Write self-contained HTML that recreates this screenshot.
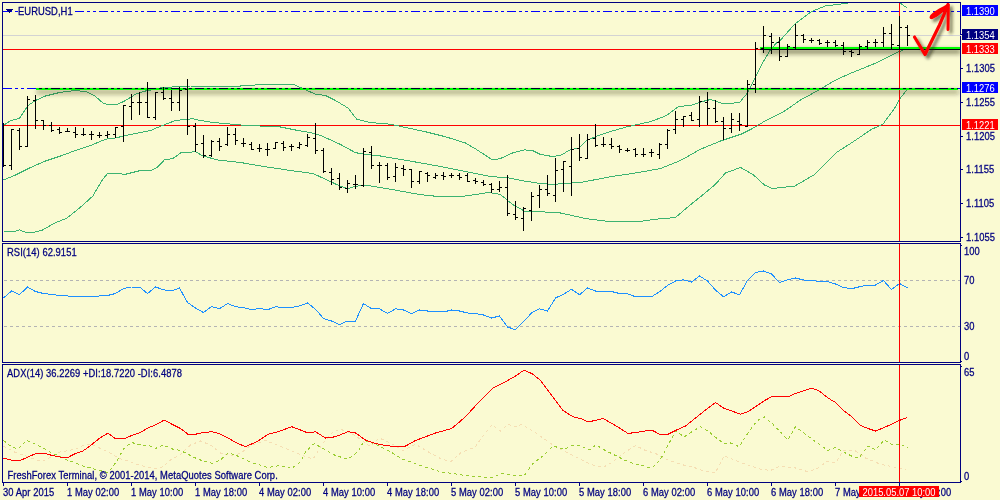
<!DOCTYPE html>
<html><head><meta charset="utf-8"><style>
html,body{margin:0;padding:0;}
body{width:1000px;height:500px;overflow:hidden;background:#FAFAD2;position:relative;font-family:"Liberation Sans", sans-serif;}
svg{position:absolute;left:0;top:0;}
.t{position:absolute;white-space:nowrap;line-height:11px;font-size:9.4px;letter-spacing:0.06px;-webkit-text-stroke:0.25px currentColor;color:#000080;transform:scaleY(1.1);transform-origin:0 0;}
.bx span,.tb span{display:inline-block;text-indent:0;transform:scaleY(1.1);transform-origin:0 0;}
.bx{position:absolute;left:962px;width:36px;height:11px;color:#fff;font-size:9.4px;line-height:11px;text-indent:4px;white-space:nowrap;}
.tb{position:absolute;left:859px;top:486px;width:80px;height:11px;background:#FF0000;color:#fff;font-size:9.4px;line-height:11px;text-align:center;white-space:nowrap;}
</style></head><body>
<svg width="1000" height="500" viewBox="0 0 1000 500" shape-rendering="crispEdges">
<defs>
<clipPath id="cmain"><rect x="3" y="3" width="957" height="238"/></clipPath>
<clipPath id="crsi"><rect x="3" y="244" width="957" height="118"/></clipPath>
<clipPath id="cadx"><rect x="3" y="365" width="957" height="117"/></clipPath>
<filter id="sh" x="-20%" y="-300%" width="140%" height="700%">
<feGaussianBlur in="SourceAlpha" stdDeviation="2.4"/>
<feOffset dx="1" dy="2.6" result="b"/>
<feFlood flood-color="#202010" flood-opacity="0.78"/>
<feComposite in2="b" operator="in"/>
<feMerge><feMergeNode/><feMergeNode in="SourceGraphic"/></feMerge>
</filter>
<filter id="sh2" x="-50%" y="-50%" width="200%" height="200%">
<feGaussianBlur in="SourceAlpha" stdDeviation="1.8"/>
<feOffset dx="2.5" dy="3" result="b"/>
<feFlood flood-color="#202010" flood-opacity="0.55"/>
<feComposite in2="b" operator="in"/>
<feMerge><feMergeNode/><feMergeNode in="SourceGraphic"/></feMerge>
</filter>
</defs>
<g clip-path="url(#cmain)">
<rect x="3" y="11" width="9" height="1" fill="#0000FF"/>
<rect x="15" y="11" width="3" height="1" fill="#0000FF"/>
<rect x="21" y="11" width="3" height="1" fill="#0000FF"/>
<rect x="27" y="11" width="9" height="1" fill="#0000FF"/>
<rect x="39" y="11" width="3" height="1" fill="#0000FF"/>
<rect x="45" y="11" width="3" height="1" fill="#0000FF"/>
<rect x="51" y="11" width="9" height="1" fill="#0000FF"/>
<rect x="63" y="11" width="3" height="1" fill="#0000FF"/>
<rect x="69" y="11" width="3" height="1" fill="#0000FF"/>
<rect x="75" y="11" width="9" height="1" fill="#0000FF"/>
<rect x="87" y="11" width="3" height="1" fill="#0000FF"/>
<rect x="93" y="11" width="3" height="1" fill="#0000FF"/>
<rect x="99" y="11" width="9" height="1" fill="#0000FF"/>
<rect x="111" y="11" width="3" height="1" fill="#0000FF"/>
<rect x="117" y="11" width="3" height="1" fill="#0000FF"/>
<rect x="123" y="11" width="9" height="1" fill="#0000FF"/>
<rect x="135" y="11" width="3" height="1" fill="#0000FF"/>
<rect x="141" y="11" width="3" height="1" fill="#0000FF"/>
<rect x="147" y="11" width="9" height="1" fill="#0000FF"/>
<rect x="159" y="11" width="3" height="1" fill="#0000FF"/>
<rect x="165" y="11" width="3" height="1" fill="#0000FF"/>
<rect x="171" y="11" width="9" height="1" fill="#0000FF"/>
<rect x="183" y="11" width="3" height="1" fill="#0000FF"/>
<rect x="189" y="11" width="3" height="1" fill="#0000FF"/>
<rect x="195" y="11" width="9" height="1" fill="#0000FF"/>
<rect x="207" y="11" width="3" height="1" fill="#0000FF"/>
<rect x="213" y="11" width="3" height="1" fill="#0000FF"/>
<rect x="219" y="11" width="9" height="1" fill="#0000FF"/>
<rect x="231" y="11" width="3" height="1" fill="#0000FF"/>
<rect x="237" y="11" width="3" height="1" fill="#0000FF"/>
<rect x="243" y="11" width="9" height="1" fill="#0000FF"/>
<rect x="255" y="11" width="3" height="1" fill="#0000FF"/>
<rect x="261" y="11" width="3" height="1" fill="#0000FF"/>
<rect x="267" y="11" width="9" height="1" fill="#0000FF"/>
<rect x="279" y="11" width="3" height="1" fill="#0000FF"/>
<rect x="285" y="11" width="3" height="1" fill="#0000FF"/>
<rect x="291" y="11" width="9" height="1" fill="#0000FF"/>
<rect x="303" y="11" width="3" height="1" fill="#0000FF"/>
<rect x="309" y="11" width="3" height="1" fill="#0000FF"/>
<rect x="315" y="11" width="9" height="1" fill="#0000FF"/>
<rect x="327" y="11" width="3" height="1" fill="#0000FF"/>
<rect x="333" y="11" width="3" height="1" fill="#0000FF"/>
<rect x="339" y="11" width="9" height="1" fill="#0000FF"/>
<rect x="351" y="11" width="3" height="1" fill="#0000FF"/>
<rect x="357" y="11" width="3" height="1" fill="#0000FF"/>
<rect x="363" y="11" width="9" height="1" fill="#0000FF"/>
<rect x="375" y="11" width="3" height="1" fill="#0000FF"/>
<rect x="381" y="11" width="3" height="1" fill="#0000FF"/>
<rect x="387" y="11" width="9" height="1" fill="#0000FF"/>
<rect x="399" y="11" width="3" height="1" fill="#0000FF"/>
<rect x="405" y="11" width="3" height="1" fill="#0000FF"/>
<rect x="411" y="11" width="9" height="1" fill="#0000FF"/>
<rect x="423" y="11" width="3" height="1" fill="#0000FF"/>
<rect x="429" y="11" width="3" height="1" fill="#0000FF"/>
<rect x="435" y="11" width="9" height="1" fill="#0000FF"/>
<rect x="447" y="11" width="3" height="1" fill="#0000FF"/>
<rect x="453" y="11" width="3" height="1" fill="#0000FF"/>
<rect x="459" y="11" width="9" height="1" fill="#0000FF"/>
<rect x="471" y="11" width="3" height="1" fill="#0000FF"/>
<rect x="477" y="11" width="3" height="1" fill="#0000FF"/>
<rect x="483" y="11" width="9" height="1" fill="#0000FF"/>
<rect x="495" y="11" width="3" height="1" fill="#0000FF"/>
<rect x="501" y="11" width="3" height="1" fill="#0000FF"/>
<rect x="507" y="11" width="9" height="1" fill="#0000FF"/>
<rect x="519" y="11" width="3" height="1" fill="#0000FF"/>
<rect x="525" y="11" width="3" height="1" fill="#0000FF"/>
<rect x="531" y="11" width="9" height="1" fill="#0000FF"/>
<rect x="543" y="11" width="3" height="1" fill="#0000FF"/>
<rect x="549" y="11" width="3" height="1" fill="#0000FF"/>
<rect x="555" y="11" width="9" height="1" fill="#0000FF"/>
<rect x="567" y="11" width="3" height="1" fill="#0000FF"/>
<rect x="573" y="11" width="3" height="1" fill="#0000FF"/>
<rect x="579" y="11" width="9" height="1" fill="#0000FF"/>
<rect x="591" y="11" width="3" height="1" fill="#0000FF"/>
<rect x="597" y="11" width="3" height="1" fill="#0000FF"/>
<rect x="603" y="11" width="9" height="1" fill="#0000FF"/>
<rect x="615" y="11" width="3" height="1" fill="#0000FF"/>
<rect x="621" y="11" width="3" height="1" fill="#0000FF"/>
<rect x="627" y="11" width="9" height="1" fill="#0000FF"/>
<rect x="639" y="11" width="3" height="1" fill="#0000FF"/>
<rect x="645" y="11" width="3" height="1" fill="#0000FF"/>
<rect x="651" y="11" width="9" height="1" fill="#0000FF"/>
<rect x="663" y="11" width="3" height="1" fill="#0000FF"/>
<rect x="669" y="11" width="3" height="1" fill="#0000FF"/>
<rect x="675" y="11" width="9" height="1" fill="#0000FF"/>
<rect x="687" y="11" width="3" height="1" fill="#0000FF"/>
<rect x="693" y="11" width="3" height="1" fill="#0000FF"/>
<rect x="699" y="11" width="9" height="1" fill="#0000FF"/>
<rect x="711" y="11" width="3" height="1" fill="#0000FF"/>
<rect x="717" y="11" width="3" height="1" fill="#0000FF"/>
<rect x="723" y="11" width="9" height="1" fill="#0000FF"/>
<rect x="735" y="11" width="3" height="1" fill="#0000FF"/>
<rect x="741" y="11" width="3" height="1" fill="#0000FF"/>
<rect x="747" y="11" width="9" height="1" fill="#0000FF"/>
<rect x="759" y="11" width="3" height="1" fill="#0000FF"/>
<rect x="765" y="11" width="3" height="1" fill="#0000FF"/>
<rect x="771" y="11" width="9" height="1" fill="#0000FF"/>
<rect x="783" y="11" width="3" height="1" fill="#0000FF"/>
<rect x="789" y="11" width="3" height="1" fill="#0000FF"/>
<rect x="795" y="11" width="9" height="1" fill="#0000FF"/>
<rect x="807" y="11" width="3" height="1" fill="#0000FF"/>
<rect x="813" y="11" width="3" height="1" fill="#0000FF"/>
<rect x="819" y="11" width="9" height="1" fill="#0000FF"/>
<rect x="831" y="11" width="3" height="1" fill="#0000FF"/>
<rect x="837" y="11" width="3" height="1" fill="#0000FF"/>
<rect x="843" y="11" width="9" height="1" fill="#0000FF"/>
<rect x="855" y="11" width="3" height="1" fill="#0000FF"/>
<rect x="861" y="11" width="3" height="1" fill="#0000FF"/>
<rect x="867" y="11" width="9" height="1" fill="#0000FF"/>
<rect x="879" y="11" width="3" height="1" fill="#0000FF"/>
<rect x="885" y="11" width="3" height="1" fill="#0000FF"/>
<rect x="891" y="11" width="9" height="1" fill="#0000FF"/>
<rect x="903" y="11" width="3" height="1" fill="#0000FF"/>
<rect x="909" y="11" width="3" height="1" fill="#0000FF"/>
<rect x="915" y="11" width="9" height="1" fill="#0000FF"/>
<rect x="927" y="11" width="3" height="1" fill="#0000FF"/>
<rect x="933" y="11" width="3" height="1" fill="#0000FF"/>
<rect x="939" y="11" width="9" height="1" fill="#0000FF"/>
<rect x="951" y="11" width="3" height="1" fill="#0000FF"/>
<rect x="957" y="11" width="3" height="1" fill="#0000FF"/>
<rect x="3" y="35" width="957" height="1" fill="#D3D3D3"/>
<rect x="3" y="49" width="957" height="1" fill="#FF0000"/>
<rect x="3" y="88" width="9" height="1" fill="#0000FF"/>
<rect x="15" y="88" width="3" height="1" fill="#0000FF"/>
<rect x="21" y="88" width="3" height="1" fill="#0000FF"/>
<rect x="27" y="88" width="9" height="1" fill="#0000FF"/>
<rect x="39" y="88" width="3" height="1" fill="#0000FF"/>
<rect x="45" y="88" width="3" height="1" fill="#0000FF"/>
<rect x="51" y="88" width="9" height="1" fill="#0000FF"/>
<rect x="63" y="88" width="3" height="1" fill="#0000FF"/>
<rect x="69" y="88" width="3" height="1" fill="#0000FF"/>
<rect x="75" y="88" width="9" height="1" fill="#0000FF"/>
<rect x="87" y="88" width="3" height="1" fill="#0000FF"/>
<rect x="93" y="88" width="3" height="1" fill="#0000FF"/>
<rect x="99" y="88" width="9" height="1" fill="#0000FF"/>
<rect x="111" y="88" width="3" height="1" fill="#0000FF"/>
<rect x="117" y="88" width="3" height="1" fill="#0000FF"/>
<rect x="123" y="88" width="9" height="1" fill="#0000FF"/>
<rect x="135" y="88" width="3" height="1" fill="#0000FF"/>
<rect x="141" y="88" width="3" height="1" fill="#0000FF"/>
<rect x="147" y="88" width="9" height="1" fill="#0000FF"/>
<rect x="159" y="88" width="3" height="1" fill="#0000FF"/>
<rect x="165" y="88" width="3" height="1" fill="#0000FF"/>
<rect x="171" y="88" width="9" height="1" fill="#0000FF"/>
<rect x="183" y="88" width="3" height="1" fill="#0000FF"/>
<rect x="189" y="88" width="3" height="1" fill="#0000FF"/>
<rect x="195" y="88" width="9" height="1" fill="#0000FF"/>
<rect x="207" y="88" width="3" height="1" fill="#0000FF"/>
<rect x="213" y="88" width="3" height="1" fill="#0000FF"/>
<rect x="219" y="88" width="9" height="1" fill="#0000FF"/>
<rect x="231" y="88" width="3" height="1" fill="#0000FF"/>
<rect x="237" y="88" width="3" height="1" fill="#0000FF"/>
<rect x="243" y="88" width="9" height="1" fill="#0000FF"/>
<rect x="255" y="88" width="3" height="1" fill="#0000FF"/>
<rect x="261" y="88" width="3" height="1" fill="#0000FF"/>
<rect x="267" y="88" width="9" height="1" fill="#0000FF"/>
<rect x="279" y="88" width="3" height="1" fill="#0000FF"/>
<rect x="285" y="88" width="3" height="1" fill="#0000FF"/>
<rect x="291" y="88" width="9" height="1" fill="#0000FF"/>
<rect x="303" y="88" width="3" height="1" fill="#0000FF"/>
<rect x="309" y="88" width="3" height="1" fill="#0000FF"/>
<rect x="315" y="88" width="9" height="1" fill="#0000FF"/>
<rect x="327" y="88" width="3" height="1" fill="#0000FF"/>
<rect x="333" y="88" width="3" height="1" fill="#0000FF"/>
<rect x="339" y="88" width="9" height="1" fill="#0000FF"/>
<rect x="351" y="88" width="3" height="1" fill="#0000FF"/>
<rect x="357" y="88" width="3" height="1" fill="#0000FF"/>
<rect x="363" y="88" width="9" height="1" fill="#0000FF"/>
<rect x="375" y="88" width="3" height="1" fill="#0000FF"/>
<rect x="381" y="88" width="3" height="1" fill="#0000FF"/>
<rect x="387" y="88" width="9" height="1" fill="#0000FF"/>
<rect x="399" y="88" width="3" height="1" fill="#0000FF"/>
<rect x="405" y="88" width="3" height="1" fill="#0000FF"/>
<rect x="411" y="88" width="9" height="1" fill="#0000FF"/>
<rect x="423" y="88" width="3" height="1" fill="#0000FF"/>
<rect x="429" y="88" width="3" height="1" fill="#0000FF"/>
<rect x="435" y="88" width="9" height="1" fill="#0000FF"/>
<rect x="447" y="88" width="3" height="1" fill="#0000FF"/>
<rect x="453" y="88" width="3" height="1" fill="#0000FF"/>
<rect x="459" y="88" width="9" height="1" fill="#0000FF"/>
<rect x="471" y="88" width="3" height="1" fill="#0000FF"/>
<rect x="477" y="88" width="3" height="1" fill="#0000FF"/>
<rect x="483" y="88" width="9" height="1" fill="#0000FF"/>
<rect x="495" y="88" width="3" height="1" fill="#0000FF"/>
<rect x="501" y="88" width="3" height="1" fill="#0000FF"/>
<rect x="507" y="88" width="9" height="1" fill="#0000FF"/>
<rect x="519" y="88" width="3" height="1" fill="#0000FF"/>
<rect x="525" y="88" width="3" height="1" fill="#0000FF"/>
<rect x="531" y="88" width="9" height="1" fill="#0000FF"/>
<rect x="543" y="88" width="3" height="1" fill="#0000FF"/>
<rect x="549" y="88" width="3" height="1" fill="#0000FF"/>
<rect x="555" y="88" width="9" height="1" fill="#0000FF"/>
<rect x="567" y="88" width="3" height="1" fill="#0000FF"/>
<rect x="573" y="88" width="3" height="1" fill="#0000FF"/>
<rect x="579" y="88" width="9" height="1" fill="#0000FF"/>
<rect x="591" y="88" width="3" height="1" fill="#0000FF"/>
<rect x="597" y="88" width="3" height="1" fill="#0000FF"/>
<rect x="603" y="88" width="9" height="1" fill="#0000FF"/>
<rect x="615" y="88" width="3" height="1" fill="#0000FF"/>
<rect x="621" y="88" width="3" height="1" fill="#0000FF"/>
<rect x="627" y="88" width="9" height="1" fill="#0000FF"/>
<rect x="639" y="88" width="3" height="1" fill="#0000FF"/>
<rect x="645" y="88" width="3" height="1" fill="#0000FF"/>
<rect x="651" y="88" width="9" height="1" fill="#0000FF"/>
<rect x="663" y="88" width="3" height="1" fill="#0000FF"/>
<rect x="669" y="88" width="3" height="1" fill="#0000FF"/>
<rect x="675" y="88" width="9" height="1" fill="#0000FF"/>
<rect x="687" y="88" width="3" height="1" fill="#0000FF"/>
<rect x="693" y="88" width="3" height="1" fill="#0000FF"/>
<rect x="699" y="88" width="9" height="1" fill="#0000FF"/>
<rect x="711" y="88" width="3" height="1" fill="#0000FF"/>
<rect x="717" y="88" width="3" height="1" fill="#0000FF"/>
<rect x="723" y="88" width="9" height="1" fill="#0000FF"/>
<rect x="735" y="88" width="3" height="1" fill="#0000FF"/>
<rect x="741" y="88" width="3" height="1" fill="#0000FF"/>
<rect x="747" y="88" width="9" height="1" fill="#0000FF"/>
<rect x="759" y="88" width="3" height="1" fill="#0000FF"/>
<rect x="765" y="88" width="3" height="1" fill="#0000FF"/>
<rect x="771" y="88" width="9" height="1" fill="#0000FF"/>
<rect x="783" y="88" width="3" height="1" fill="#0000FF"/>
<rect x="789" y="88" width="3" height="1" fill="#0000FF"/>
<rect x="795" y="88" width="9" height="1" fill="#0000FF"/>
<rect x="807" y="88" width="3" height="1" fill="#0000FF"/>
<rect x="813" y="88" width="3" height="1" fill="#0000FF"/>
<rect x="819" y="88" width="9" height="1" fill="#0000FF"/>
<rect x="831" y="88" width="3" height="1" fill="#0000FF"/>
<rect x="837" y="88" width="3" height="1" fill="#0000FF"/>
<rect x="843" y="88" width="9" height="1" fill="#0000FF"/>
<rect x="855" y="88" width="3" height="1" fill="#0000FF"/>
<rect x="861" y="88" width="3" height="1" fill="#0000FF"/>
<rect x="867" y="88" width="9" height="1" fill="#0000FF"/>
<rect x="879" y="88" width="3" height="1" fill="#0000FF"/>
<rect x="885" y="88" width="3" height="1" fill="#0000FF"/>
<rect x="891" y="88" width="9" height="1" fill="#0000FF"/>
<rect x="903" y="88" width="3" height="1" fill="#0000FF"/>
<rect x="909" y="88" width="3" height="1" fill="#0000FF"/>
<rect x="915" y="88" width="9" height="1" fill="#0000FF"/>
<rect x="927" y="88" width="3" height="1" fill="#0000FF"/>
<rect x="933" y="88" width="3" height="1" fill="#0000FF"/>
<rect x="939" y="88" width="9" height="1" fill="#0000FF"/>
<rect x="951" y="88" width="3" height="1" fill="#0000FF"/>
<rect x="957" y="88" width="3" height="1" fill="#0000FF"/>
<rect x="3" y="125" width="957" height="1" fill="#FF0000"/>
<polyline points="3.50,125.50 10.50,120.50 19.25,118.50 28.00,105.50 35.50,100.50 45.50,96.00 60.50,92.25 75.50,90.50 86.75,91.75 94.25,95.50 103.00,103.00 108.00,104.75 116.75,104.75 125.50,100.50 135.50,94.25 145.50,91.00 160.50,88.00 175.50,86.75 190.50,86.00 240.50,86.00 265.50,84.25 293.00,84.25 300.50,87.50 315.50,94.25 325.50,95.50 335.50,100.50 348.00,108.00 356.75,119.25 370.50,122.50 390.50,124.25 405.50,127.50 425.50,131.75 445.50,136.75 465.50,143.00 476.50,149.50 492.50,159.90 500.50,158.50 512.50,153.00 524.50,149.90 532.50,150.50 540.50,154.50 552.50,156.50 560.50,155.50 570.50,149.50 578.50,148.50 586.50,140.50 598.50,135.50 610.50,131.50 626.50,126.90 650.50,121.70 666.50,115.50 678.50,106.50 690.50,105.50 702.50,101.50 710.50,99.50 722.50,103.50 739.30,102.80 748.10,92.20 752.50,83.40 756.90,74.60 763.50,61.40 770.10,50.40 776.70,42.70 780.50,40.10 794.90,23.90 811.10,11.70 825.50,5.90 847.10,3.20 860.50,-1.50 890.50,-1.50 900.20,3.20 907.40,8.10" fill="none" stroke="#3CB371" stroke-width="1" shape-rendering="crispEdges"/>
<polyline points="3.50,180.00 15.50,175.00 30.50,167.50 45.50,161.00 60.50,156.00 75.50,150.50 90.50,145.50 105.50,139.25 115.50,138.00 125.50,135.50 140.50,132.50 150.50,130.50 160.50,126.25 175.50,120.50 193.00,118.75 200.50,120.50 213.00,122.50 240.50,125.00 265.50,126.30 280.50,127.00 295.50,130.00 310.50,132.70 320.50,135.30 340.50,144.50 355.50,152.70 370.50,155.00 380.50,156.00 415.50,162.00 440.50,166.50 465.50,171.50 490.50,176.50 508.50,177.90 524.50,181.10 540.50,183.50 552.50,184.50 564.50,183.50 580.50,182.50 610.50,176.75 635.50,173.00 660.50,168.50 680.50,160.50 700.50,149.25 720.50,141.00 741.50,134.00 752.50,128.50 763.50,121.90 774.50,116.40 785.50,110.50 800.50,100.00 820.50,89.10 836.50,79.50 852.50,72.50 874.80,63.50 894.00,53.90 906.50,48.50" fill="none" stroke="#3CB371" stroke-width="1" shape-rendering="crispEdges"/>
<polyline points="3.75,231.90 12.85,231.90 19.40,229.90 27.20,232.90 35.60,231.90 42.10,230.30 55.10,222.80 66.80,218.20 79.80,207.80 92.80,196.10 101.90,180.50 108.00,173.00 125.50,174.25 140.50,170.50 150.50,171.00 158.00,166.75 164.25,160.00 173.00,158.50 180.50,153.00 195.50,151.75 203.00,156.00 218.00,160.00 240.50,162.50 265.50,166.75 290.50,170.50 313.00,173.50 325.50,179.25 340.30,186.20 348.00,188.90 353.50,186.70 364.50,185.10 375.50,186.70 397.50,190.50 419.50,194.50 440.50,196.75 465.50,196.00 488.50,192.50 500.50,194.50 512.50,204.50 524.50,211.10 536.50,211.50 560.50,213.00 585.50,218.50 610.50,221.75 638.00,221.75 655.50,219.25 675.50,217.50 688.00,206.75 700.50,196.75 715.50,184.25 725.50,173.00 740.50,167.50 753.30,174.80 764.50,185.00 772.50,188.50 794.90,186.00 814.10,174.80 836.50,152.50 852.50,142.20 871.50,129.40 882.80,124.30 894.00,109.30 900.40,98.10 908.40,87.80" fill="none" stroke="#3CB371" stroke-width="1" shape-rendering="crispEdges"/>
<rect x="899" y="3" width="1" height="238" fill="#FF0000"/>
<g filter="url(#sh)">
<rect x="760" y="47" width="200" height="3" fill="#00FF00"/>
<rect x="36" y="88" width="922" height="2" fill="#00FF00"/>
</g>
<rect x="760" y="49" width="200" height="1" fill="#000010"/>
<rect x="39" y="88" width="3" height="1" fill="#000030"/>
<rect x="45" y="88" width="3" height="1" fill="#000030"/>
<rect x="51" y="88" width="9" height="1" fill="#000030"/>
<rect x="63" y="88" width="3" height="1" fill="#000030"/>
<rect x="69" y="88" width="3" height="1" fill="#000030"/>
<rect x="75" y="88" width="9" height="1" fill="#000030"/>
<rect x="87" y="88" width="3" height="1" fill="#000030"/>
<rect x="93" y="88" width="3" height="1" fill="#000030"/>
<rect x="99" y="88" width="9" height="1" fill="#000030"/>
<rect x="111" y="88" width="3" height="1" fill="#000030"/>
<rect x="117" y="88" width="3" height="1" fill="#000030"/>
<rect x="123" y="88" width="9" height="1" fill="#000030"/>
<rect x="135" y="88" width="3" height="1" fill="#000030"/>
<rect x="141" y="88" width="3" height="1" fill="#000030"/>
<rect x="147" y="88" width="9" height="1" fill="#000030"/>
<rect x="159" y="88" width="3" height="1" fill="#000030"/>
<rect x="165" y="88" width="3" height="1" fill="#000030"/>
<rect x="171" y="88" width="9" height="1" fill="#000030"/>
<rect x="183" y="88" width="3" height="1" fill="#000030"/>
<rect x="189" y="88" width="3" height="1" fill="#000030"/>
<rect x="195" y="88" width="9" height="1" fill="#000030"/>
<rect x="207" y="88" width="3" height="1" fill="#000030"/>
<rect x="213" y="88" width="3" height="1" fill="#000030"/>
<rect x="219" y="88" width="9" height="1" fill="#000030"/>
<rect x="231" y="88" width="3" height="1" fill="#000030"/>
<rect x="237" y="88" width="3" height="1" fill="#000030"/>
<rect x="243" y="88" width="9" height="1" fill="#000030"/>
<rect x="255" y="88" width="3" height="1" fill="#000030"/>
<rect x="261" y="88" width="3" height="1" fill="#000030"/>
<rect x="267" y="88" width="9" height="1" fill="#000030"/>
<rect x="279" y="88" width="3" height="1" fill="#000030"/>
<rect x="285" y="88" width="3" height="1" fill="#000030"/>
<rect x="291" y="88" width="9" height="1" fill="#000030"/>
<rect x="303" y="88" width="3" height="1" fill="#000030"/>
<rect x="309" y="88" width="3" height="1" fill="#000030"/>
<rect x="315" y="88" width="9" height="1" fill="#000030"/>
<rect x="327" y="88" width="3" height="1" fill="#000030"/>
<rect x="333" y="88" width="3" height="1" fill="#000030"/>
<rect x="339" y="88" width="9" height="1" fill="#000030"/>
<rect x="351" y="88" width="3" height="1" fill="#000030"/>
<rect x="357" y="88" width="3" height="1" fill="#000030"/>
<rect x="363" y="88" width="9" height="1" fill="#000030"/>
<rect x="375" y="88" width="3" height="1" fill="#000030"/>
<rect x="381" y="88" width="3" height="1" fill="#000030"/>
<rect x="387" y="88" width="9" height="1" fill="#000030"/>
<rect x="399" y="88" width="3" height="1" fill="#000030"/>
<rect x="405" y="88" width="3" height="1" fill="#000030"/>
<rect x="411" y="88" width="9" height="1" fill="#000030"/>
<rect x="423" y="88" width="3" height="1" fill="#000030"/>
<rect x="429" y="88" width="3" height="1" fill="#000030"/>
<rect x="435" y="88" width="9" height="1" fill="#000030"/>
<rect x="447" y="88" width="3" height="1" fill="#000030"/>
<rect x="453" y="88" width="3" height="1" fill="#000030"/>
<rect x="459" y="88" width="9" height="1" fill="#000030"/>
<rect x="471" y="88" width="3" height="1" fill="#000030"/>
<rect x="477" y="88" width="3" height="1" fill="#000030"/>
<rect x="483" y="88" width="9" height="1" fill="#000030"/>
<rect x="495" y="88" width="3" height="1" fill="#000030"/>
<rect x="501" y="88" width="3" height="1" fill="#000030"/>
<rect x="507" y="88" width="9" height="1" fill="#000030"/>
<rect x="519" y="88" width="3" height="1" fill="#000030"/>
<rect x="525" y="88" width="3" height="1" fill="#000030"/>
<rect x="531" y="88" width="9" height="1" fill="#000030"/>
<rect x="543" y="88" width="3" height="1" fill="#000030"/>
<rect x="549" y="88" width="3" height="1" fill="#000030"/>
<rect x="555" y="88" width="9" height="1" fill="#000030"/>
<rect x="567" y="88" width="3" height="1" fill="#000030"/>
<rect x="573" y="88" width="3" height="1" fill="#000030"/>
<rect x="579" y="88" width="9" height="1" fill="#000030"/>
<rect x="591" y="88" width="3" height="1" fill="#000030"/>
<rect x="597" y="88" width="3" height="1" fill="#000030"/>
<rect x="603" y="88" width="9" height="1" fill="#000030"/>
<rect x="615" y="88" width="3" height="1" fill="#000030"/>
<rect x="621" y="88" width="3" height="1" fill="#000030"/>
<rect x="627" y="88" width="9" height="1" fill="#000030"/>
<rect x="639" y="88" width="3" height="1" fill="#000030"/>
<rect x="645" y="88" width="3" height="1" fill="#000030"/>
<rect x="651" y="88" width="9" height="1" fill="#000030"/>
<rect x="663" y="88" width="3" height="1" fill="#000030"/>
<rect x="669" y="88" width="3" height="1" fill="#000030"/>
<rect x="675" y="88" width="9" height="1" fill="#000030"/>
<rect x="687" y="88" width="3" height="1" fill="#000030"/>
<rect x="693" y="88" width="3" height="1" fill="#000030"/>
<rect x="699" y="88" width="9" height="1" fill="#000030"/>
<rect x="711" y="88" width="3" height="1" fill="#000030"/>
<rect x="717" y="88" width="3" height="1" fill="#000030"/>
<rect x="723" y="88" width="9" height="1" fill="#000030"/>
<rect x="735" y="88" width="3" height="1" fill="#000030"/>
<rect x="741" y="88" width="3" height="1" fill="#000030"/>
<rect x="747" y="88" width="9" height="1" fill="#000030"/>
<rect x="759" y="88" width="3" height="1" fill="#000030"/>
<rect x="765" y="88" width="3" height="1" fill="#000030"/>
<rect x="771" y="88" width="9" height="1" fill="#000030"/>
<rect x="783" y="88" width="3" height="1" fill="#000030"/>
<rect x="789" y="88" width="3" height="1" fill="#000030"/>
<rect x="795" y="88" width="9" height="1" fill="#000030"/>
<rect x="807" y="88" width="3" height="1" fill="#000030"/>
<rect x="813" y="88" width="3" height="1" fill="#000030"/>
<rect x="819" y="88" width="9" height="1" fill="#000030"/>
<rect x="831" y="88" width="3" height="1" fill="#000030"/>
<rect x="837" y="88" width="3" height="1" fill="#000030"/>
<rect x="843" y="88" width="9" height="1" fill="#000030"/>
<rect x="855" y="88" width="3" height="1" fill="#000030"/>
<rect x="861" y="88" width="3" height="1" fill="#000030"/>
<rect x="867" y="88" width="9" height="1" fill="#000030"/>
<rect x="879" y="88" width="3" height="1" fill="#000030"/>
<rect x="885" y="88" width="3" height="1" fill="#000030"/>
<rect x="891" y="88" width="9" height="1" fill="#000030"/>
<rect x="903" y="88" width="3" height="1" fill="#000030"/>
<rect x="909" y="88" width="3" height="1" fill="#000030"/>
<rect x="915" y="88" width="9" height="1" fill="#000030"/>
<rect x="927" y="88" width="3" height="1" fill="#000030"/>
<rect x="933" y="88" width="3" height="1" fill="#000030"/>
<rect x="939" y="88" width="9" height="1" fill="#000030"/>
<rect x="951" y="88" width="3" height="1" fill="#000030"/>
<rect x="957" y="88" width="1" height="1" fill="#000030"/>
<rect x="3" y="123" width="1" height="44"/>
<rect x="1" y="165" width="2" height="1"/>
<rect x="4" y="165" width="2" height="1"/>
<rect x="11" y="129" width="1" height="41"/>
<rect x="9" y="165" width="2" height="1"/>
<rect x="12" y="129" width="2" height="1"/>
<rect x="19" y="128" width="1" height="22"/>
<rect x="17" y="130" width="2" height="1"/>
<rect x="20" y="146" width="2" height="1"/>
<rect x="27" y="96" width="1" height="51"/>
<rect x="25" y="146" width="2" height="1"/>
<rect x="28" y="99" width="2" height="1"/>
<rect x="35" y="95" width="1" height="34"/>
<rect x="33" y="100" width="2" height="1"/>
<rect x="36" y="120" width="2" height="1"/>
<rect x="43" y="120" width="1" height="10"/>
<rect x="41" y="120" width="2" height="1"/>
<rect x="44" y="125" width="2" height="1"/>
<rect x="51" y="122" width="1" height="10"/>
<rect x="49" y="125" width="2" height="1"/>
<rect x="52" y="130" width="2" height="1"/>
<rect x="59" y="127" width="1" height="7"/>
<rect x="57" y="129" width="2" height="1"/>
<rect x="60" y="132" width="2" height="1"/>
<rect x="67" y="128" width="1" height="4"/>
<rect x="65" y="131" width="2" height="1"/>
<rect x="68" y="131" width="2" height="1"/>
<rect x="75" y="127" width="1" height="11"/>
<rect x="73" y="132" width="2" height="1"/>
<rect x="76" y="134" width="2" height="1"/>
<rect x="83" y="128" width="1" height="8"/>
<rect x="81" y="134" width="2" height="1"/>
<rect x="84" y="134" width="2" height="1"/>
<rect x="91" y="131" width="1" height="9"/>
<rect x="89" y="134" width="2" height="1"/>
<rect x="92" y="134" width="2" height="1"/>
<rect x="99" y="132" width="1" height="6"/>
<rect x="97" y="135" width="2" height="1"/>
<rect x="100" y="135" width="2" height="1"/>
<rect x="107" y="131" width="1" height="7"/>
<rect x="105" y="135" width="2" height="1"/>
<rect x="108" y="134" width="2" height="1"/>
<rect x="115" y="127" width="1" height="11"/>
<rect x="113" y="134" width="2" height="1"/>
<rect x="116" y="127" width="2" height="1"/>
<rect x="123" y="105" width="1" height="37"/>
<rect x="121" y="126" width="2" height="1"/>
<rect x="124" y="105" width="2" height="1"/>
<rect x="131" y="94" width="1" height="26"/>
<rect x="129" y="106" width="2" height="1"/>
<rect x="132" y="102" width="2" height="1"/>
<rect x="139" y="92" width="1" height="23"/>
<rect x="137" y="102" width="2" height="1"/>
<rect x="140" y="102" width="2" height="1"/>
<rect x="147" y="82" width="1" height="36"/>
<rect x="145" y="102" width="2" height="1"/>
<rect x="148" y="117" width="2" height="1"/>
<rect x="155" y="92" width="1" height="28"/>
<rect x="153" y="117" width="2" height="1"/>
<rect x="156" y="92" width="2" height="1"/>
<rect x="163" y="87" width="1" height="13"/>
<rect x="161" y="92" width="2" height="1"/>
<rect x="164" y="98" width="2" height="1"/>
<rect x="171" y="90" width="1" height="21"/>
<rect x="169" y="98" width="2" height="1"/>
<rect x="172" y="102" width="2" height="1"/>
<rect x="179" y="87" width="1" height="24"/>
<rect x="177" y="102" width="2" height="1"/>
<rect x="180" y="90" width="2" height="1"/>
<rect x="187" y="79" width="1" height="56"/>
<rect x="185" y="89" width="2" height="1"/>
<rect x="188" y="126" width="2" height="1"/>
<rect x="195" y="123" width="1" height="29"/>
<rect x="193" y="126" width="2" height="1"/>
<rect x="196" y="144" width="2" height="1"/>
<rect x="203" y="135" width="1" height="23"/>
<rect x="201" y="143" width="2" height="1"/>
<rect x="204" y="155" width="2" height="1"/>
<rect x="211" y="140" width="1" height="17"/>
<rect x="209" y="155" width="2" height="1"/>
<rect x="212" y="141" width="2" height="1"/>
<rect x="219" y="138" width="1" height="13"/>
<rect x="217" y="141" width="2" height="1"/>
<rect x="220" y="146" width="2" height="1"/>
<rect x="227" y="127" width="1" height="19"/>
<rect x="225" y="144" width="2" height="1"/>
<rect x="228" y="134" width="2" height="1"/>
<rect x="235" y="128" width="1" height="17"/>
<rect x="233" y="134" width="2" height="1"/>
<rect x="236" y="140" width="2" height="1"/>
<rect x="243" y="138" width="1" height="9"/>
<rect x="241" y="143" width="2" height="1"/>
<rect x="244" y="143" width="2" height="1"/>
<rect x="251" y="142" width="1" height="8"/>
<rect x="249" y="144" width="2" height="1"/>
<rect x="252" y="149" width="2" height="1"/>
<rect x="259" y="144" width="1" height="8"/>
<rect x="257" y="148" width="2" height="1"/>
<rect x="260" y="148" width="2" height="1"/>
<rect x="267" y="143" width="1" height="13"/>
<rect x="265" y="149" width="2" height="1"/>
<rect x="268" y="149" width="2" height="1"/>
<rect x="275" y="142" width="1" height="7"/>
<rect x="273" y="148" width="2" height="1"/>
<rect x="276" y="142" width="2" height="1"/>
<rect x="283" y="141" width="1" height="10"/>
<rect x="281" y="143" width="2" height="1"/>
<rect x="284" y="147" width="2" height="1"/>
<rect x="291" y="144" width="1" height="7"/>
<rect x="289" y="146" width="2" height="1"/>
<rect x="292" y="146" width="2" height="1"/>
<rect x="299" y="142" width="1" height="7"/>
<rect x="297" y="147" width="2" height="1"/>
<rect x="300" y="144" width="2" height="1"/>
<rect x="307" y="134" width="1" height="13"/>
<rect x="305" y="145" width="2" height="1"/>
<rect x="308" y="137" width="2" height="1"/>
<rect x="315" y="123" width="1" height="31"/>
<rect x="313" y="138" width="2" height="1"/>
<rect x="316" y="150" width="2" height="1"/>
<rect x="323" y="148" width="1" height="25"/>
<rect x="321" y="150" width="2" height="1"/>
<rect x="324" y="171" width="2" height="1"/>
<rect x="331" y="168" width="1" height="17"/>
<rect x="329" y="172" width="2" height="1"/>
<rect x="332" y="179" width="2" height="1"/>
<rect x="339" y="173" width="1" height="17"/>
<rect x="337" y="178" width="2" height="1"/>
<rect x="340" y="187" width="2" height="1"/>
<rect x="347" y="180" width="1" height="13"/>
<rect x="345" y="188" width="2" height="1"/>
<rect x="348" y="183" width="2" height="1"/>
<rect x="355" y="175" width="1" height="14"/>
<rect x="353" y="184" width="2" height="1"/>
<rect x="356" y="184" width="2" height="1"/>
<rect x="363" y="148" width="1" height="39"/>
<rect x="361" y="185" width="2" height="1"/>
<rect x="364" y="151" width="2" height="1"/>
<rect x="371" y="146" width="1" height="23"/>
<rect x="369" y="152" width="2" height="1"/>
<rect x="372" y="165" width="2" height="1"/>
<rect x="379" y="162" width="1" height="21"/>
<rect x="377" y="165" width="2" height="1"/>
<rect x="380" y="165" width="2" height="1"/>
<rect x="387" y="163" width="1" height="17"/>
<rect x="385" y="165" width="2" height="1"/>
<rect x="388" y="177" width="2" height="1"/>
<rect x="395" y="163" width="1" height="19"/>
<rect x="393" y="176" width="2" height="1"/>
<rect x="396" y="167" width="2" height="1"/>
<rect x="403" y="165" width="1" height="11"/>
<rect x="401" y="168" width="2" height="1"/>
<rect x="404" y="169" width="2" height="1"/>
<rect x="411" y="169" width="1" height="19"/>
<rect x="409" y="169" width="2" height="1"/>
<rect x="412" y="181" width="2" height="1"/>
<rect x="419" y="171" width="1" height="13"/>
<rect x="417" y="181" width="2" height="1"/>
<rect x="420" y="171" width="2" height="1"/>
<rect x="427" y="172" width="1" height="10"/>
<rect x="425" y="173" width="2" height="1"/>
<rect x="428" y="175" width="2" height="1"/>
<rect x="435" y="173" width="1" height="6"/>
<rect x="433" y="177" width="2" height="1"/>
<rect x="436" y="175" width="2" height="1"/>
<rect x="443" y="172" width="1" height="8"/>
<rect x="441" y="175" width="2" height="1"/>
<rect x="444" y="176" width="2" height="1"/>
<rect x="451" y="173" width="1" height="5"/>
<rect x="449" y="175" width="2" height="1"/>
<rect x="452" y="175" width="2" height="1"/>
<rect x="459" y="173" width="1" height="7"/>
<rect x="457" y="175" width="2" height="1"/>
<rect x="460" y="177" width="2" height="1"/>
<rect x="467" y="173" width="1" height="9"/>
<rect x="465" y="175" width="2" height="1"/>
<rect x="468" y="181" width="2" height="1"/>
<rect x="475" y="178" width="1" height="6"/>
<rect x="473" y="180" width="2" height="1"/>
<rect x="476" y="181" width="2" height="1"/>
<rect x="483" y="180" width="1" height="6"/>
<rect x="481" y="182" width="2" height="1"/>
<rect x="484" y="184" width="2" height="1"/>
<rect x="491" y="183" width="1" height="10"/>
<rect x="489" y="184" width="2" height="1"/>
<rect x="492" y="189" width="2" height="1"/>
<rect x="499" y="181" width="1" height="11"/>
<rect x="497" y="189" width="2" height="1"/>
<rect x="500" y="187" width="2" height="1"/>
<rect x="507" y="175" width="1" height="41"/>
<rect x="505" y="187" width="2" height="1"/>
<rect x="508" y="213" width="2" height="1"/>
<rect x="515" y="201" width="1" height="19"/>
<rect x="513" y="214" width="2" height="1"/>
<rect x="516" y="217" width="2" height="1"/>
<rect x="523" y="207" width="1" height="24"/>
<rect x="521" y="218" width="2" height="1"/>
<rect x="524" y="208" width="2" height="1"/>
<rect x="531" y="192" width="1" height="29"/>
<rect x="529" y="210" width="2" height="1"/>
<rect x="532" y="196" width="2" height="1"/>
<rect x="539" y="185" width="1" height="23"/>
<rect x="537" y="195" width="2" height="1"/>
<rect x="540" y="189" width="2" height="1"/>
<rect x="547" y="175" width="1" height="21"/>
<rect x="545" y="189" width="2" height="1"/>
<rect x="548" y="193" width="2" height="1"/>
<rect x="555" y="158" width="1" height="44"/>
<rect x="553" y="195" width="2" height="1"/>
<rect x="556" y="170" width="2" height="1"/>
<rect x="563" y="161" width="1" height="31"/>
<rect x="561" y="169" width="2" height="1"/>
<rect x="564" y="161" width="2" height="1"/>
<rect x="571" y="137" width="1" height="59"/>
<rect x="569" y="166" width="2" height="1"/>
<rect x="572" y="149" width="2" height="1"/>
<rect x="579" y="134" width="1" height="27"/>
<rect x="577" y="148" width="2" height="1"/>
<rect x="580" y="157" width="2" height="1"/>
<rect x="587" y="134" width="1" height="25"/>
<rect x="585" y="158" width="2" height="1"/>
<rect x="588" y="139" width="2" height="1"/>
<rect x="595" y="124" width="1" height="23"/>
<rect x="593" y="138" width="2" height="1"/>
<rect x="596" y="145" width="2" height="1"/>
<rect x="603" y="137" width="1" height="10"/>
<rect x="601" y="144" width="2" height="1"/>
<rect x="604" y="144" width="2" height="1"/>
<rect x="611" y="138" width="1" height="11"/>
<rect x="609" y="144" width="2" height="1"/>
<rect x="612" y="146" width="2" height="1"/>
<rect x="619" y="145" width="1" height="8"/>
<rect x="617" y="146" width="2" height="1"/>
<rect x="620" y="149" width="2" height="1"/>
<rect x="627" y="148" width="1" height="4"/>
<rect x="625" y="150" width="2" height="1"/>
<rect x="628" y="150" width="2" height="1"/>
<rect x="635" y="148" width="1" height="9"/>
<rect x="633" y="149" width="2" height="1"/>
<rect x="636" y="154" width="2" height="1"/>
<rect x="643" y="148" width="1" height="9"/>
<rect x="641" y="154" width="2" height="1"/>
<rect x="644" y="154" width="2" height="1"/>
<rect x="651" y="149" width="1" height="8"/>
<rect x="649" y="152" width="2" height="1"/>
<rect x="652" y="152" width="2" height="1"/>
<rect x="659" y="143" width="1" height="16"/>
<rect x="657" y="154" width="2" height="1"/>
<rect x="660" y="144" width="2" height="1"/>
<rect x="667" y="129" width="1" height="20"/>
<rect x="665" y="144" width="2" height="1"/>
<rect x="668" y="130" width="2" height="1"/>
<rect x="675" y="111" width="1" height="23"/>
<rect x="673" y="129" width="2" height="1"/>
<rect x="676" y="119" width="2" height="1"/>
<rect x="683" y="116" width="1" height="11"/>
<rect x="681" y="119" width="2" height="1"/>
<rect x="684" y="116" width="2" height="1"/>
<rect x="691" y="112" width="1" height="9"/>
<rect x="689" y="115" width="2" height="1"/>
<rect x="692" y="120" width="2" height="1"/>
<rect x="699" y="96" width="1" height="31"/>
<rect x="697" y="119" width="2" height="1"/>
<rect x="700" y="101" width="2" height="1"/>
<rect x="707" y="92" width="1" height="33"/>
<rect x="705" y="102" width="2" height="1"/>
<rect x="708" y="108" width="2" height="1"/>
<rect x="715" y="100" width="1" height="23"/>
<rect x="713" y="108" width="2" height="1"/>
<rect x="716" y="121" width="2" height="1"/>
<rect x="723" y="117" width="1" height="23"/>
<rect x="721" y="121" width="2" height="1"/>
<rect x="724" y="128" width="2" height="1"/>
<rect x="731" y="113" width="1" height="20"/>
<rect x="729" y="128" width="2" height="1"/>
<rect x="732" y="119" width="2" height="1"/>
<rect x="739" y="113" width="1" height="18"/>
<rect x="737" y="121" width="2" height="1"/>
<rect x="740" y="124" width="2" height="1"/>
<rect x="747" y="80" width="1" height="47"/>
<rect x="745" y="126" width="2" height="1"/>
<rect x="748" y="84" width="2" height="1"/>
<rect x="755" y="42" width="1" height="51"/>
<rect x="753" y="84" width="2" height="1"/>
<rect x="756" y="48" width="2" height="1"/>
<rect x="763" y="26" width="1" height="27"/>
<rect x="761" y="48" width="2" height="1"/>
<rect x="764" y="35" width="2" height="1"/>
<rect x="771" y="33" width="1" height="21"/>
<rect x="769" y="36" width="2" height="1"/>
<rect x="772" y="42" width="2" height="1"/>
<rect x="779" y="37" width="1" height="24"/>
<rect x="777" y="42" width="2" height="1"/>
<rect x="780" y="56" width="2" height="1"/>
<rect x="787" y="44" width="1" height="13"/>
<rect x="785" y="56" width="2" height="1"/>
<rect x="788" y="46" width="2" height="1"/>
<rect x="795" y="24" width="1" height="26"/>
<rect x="793" y="47" width="2" height="1"/>
<rect x="796" y="35" width="2" height="1"/>
<rect x="803" y="34" width="1" height="9"/>
<rect x="801" y="35" width="2" height="1"/>
<rect x="804" y="39" width="2" height="1"/>
<rect x="811" y="38" width="1" height="5"/>
<rect x="809" y="40" width="2" height="1"/>
<rect x="812" y="40" width="2" height="1"/>
<rect x="819" y="39" width="1" height="6"/>
<rect x="817" y="40" width="2" height="1"/>
<rect x="820" y="43" width="2" height="1"/>
<rect x="827" y="40" width="1" height="7"/>
<rect x="825" y="42" width="2" height="1"/>
<rect x="828" y="42" width="2" height="1"/>
<rect x="835" y="40" width="1" height="7"/>
<rect x="833" y="42" width="2" height="1"/>
<rect x="836" y="45" width="2" height="1"/>
<rect x="843" y="42" width="1" height="13"/>
<rect x="841" y="45" width="2" height="1"/>
<rect x="844" y="51" width="2" height="1"/>
<rect x="851" y="49" width="1" height="8"/>
<rect x="849" y="51" width="2" height="1"/>
<rect x="852" y="52" width="2" height="1"/>
<rect x="859" y="44" width="1" height="11"/>
<rect x="857" y="54" width="2" height="1"/>
<rect x="860" y="46" width="2" height="1"/>
<rect x="867" y="40" width="1" height="9"/>
<rect x="865" y="46" width="2" height="1"/>
<rect x="868" y="42" width="2" height="1"/>
<rect x="875" y="39" width="1" height="8"/>
<rect x="873" y="42" width="2" height="1"/>
<rect x="876" y="42" width="2" height="1"/>
<rect x="883" y="27" width="1" height="20"/>
<rect x="881" y="42" width="2" height="1"/>
<rect x="884" y="33" width="2" height="1"/>
<rect x="891" y="24" width="1" height="25"/>
<rect x="889" y="33" width="2" height="1"/>
<rect x="892" y="44" width="2" height="1"/>
<rect x="899" y="16" width="1" height="33"/>
<rect x="897" y="45" width="2" height="1"/>
<rect x="900" y="27" width="2" height="1"/>
<rect x="907" y="25" width="1" height="21"/>
<rect x="905" y="27" width="2" height="1"/>
<rect x="908" y="35" width="2" height="1"/>
<g filter="url(#sh2)" shape-rendering="geometricPrecision">
<path d="M914.5,37 L925,54.5 L939.5,25 Q944,15 948,4.5" fill="none" stroke="#FF0000" stroke-width="3.2" stroke-linecap="round" stroke-linejoin="round"/>
<path d="M948.5,3.5 C942,7 935,10.5 931,14.5 C928.5,17 929.5,19.8 932.5,19 C937.5,17 943,12 947.5,8 Z" fill="#FF0000"/>
<path d="M948.3,5 L948,29.5" fill="none" stroke="#FF0000" stroke-width="3" stroke-linecap="round"/>
</g>
</g>
<path d="M6,9 H13 V10 H12 V11 H11 V12 H10 V13 H9 V12 H8 V11 H7 V10 H6 Z" fill="#000080"/>
<rect x="2" y="2" width="959" height="1" fill="#000080"/>
<rect x="2" y="241" width="959" height="1" fill="#000080"/>
<rect x="2" y="2" width="1" height="240" fill="#000080"/>
<rect x="960" y="2" width="1" height="240" fill="#000080"/>
<g clip-path="url(#crsi)">
<rect x="4" y="280" width="3" height="1" fill="#B4B4B4"/>
<rect x="10" y="280" width="3" height="1" fill="#B4B4B4"/>
<rect x="16" y="280" width="3" height="1" fill="#B4B4B4"/>
<rect x="22" y="280" width="3" height="1" fill="#B4B4B4"/>
<rect x="28" y="280" width="3" height="1" fill="#B4B4B4"/>
<rect x="34" y="280" width="3" height="1" fill="#B4B4B4"/>
<rect x="40" y="280" width="3" height="1" fill="#B4B4B4"/>
<rect x="46" y="280" width="3" height="1" fill="#B4B4B4"/>
<rect x="52" y="280" width="3" height="1" fill="#B4B4B4"/>
<rect x="58" y="280" width="3" height="1" fill="#B4B4B4"/>
<rect x="64" y="280" width="3" height="1" fill="#B4B4B4"/>
<rect x="70" y="280" width="3" height="1" fill="#B4B4B4"/>
<rect x="76" y="280" width="3" height="1" fill="#B4B4B4"/>
<rect x="82" y="280" width="3" height="1" fill="#B4B4B4"/>
<rect x="88" y="280" width="3" height="1" fill="#B4B4B4"/>
<rect x="94" y="280" width="3" height="1" fill="#B4B4B4"/>
<rect x="100" y="280" width="3" height="1" fill="#B4B4B4"/>
<rect x="106" y="280" width="3" height="1" fill="#B4B4B4"/>
<rect x="112" y="280" width="3" height="1" fill="#B4B4B4"/>
<rect x="118" y="280" width="3" height="1" fill="#B4B4B4"/>
<rect x="124" y="280" width="3" height="1" fill="#B4B4B4"/>
<rect x="130" y="280" width="3" height="1" fill="#B4B4B4"/>
<rect x="136" y="280" width="3" height="1" fill="#B4B4B4"/>
<rect x="142" y="280" width="3" height="1" fill="#B4B4B4"/>
<rect x="148" y="280" width="3" height="1" fill="#B4B4B4"/>
<rect x="154" y="280" width="3" height="1" fill="#B4B4B4"/>
<rect x="160" y="280" width="3" height="1" fill="#B4B4B4"/>
<rect x="166" y="280" width="3" height="1" fill="#B4B4B4"/>
<rect x="172" y="280" width="3" height="1" fill="#B4B4B4"/>
<rect x="178" y="280" width="3" height="1" fill="#B4B4B4"/>
<rect x="184" y="280" width="3" height="1" fill="#B4B4B4"/>
<rect x="190" y="280" width="3" height="1" fill="#B4B4B4"/>
<rect x="196" y="280" width="3" height="1" fill="#B4B4B4"/>
<rect x="202" y="280" width="3" height="1" fill="#B4B4B4"/>
<rect x="208" y="280" width="3" height="1" fill="#B4B4B4"/>
<rect x="214" y="280" width="3" height="1" fill="#B4B4B4"/>
<rect x="220" y="280" width="3" height="1" fill="#B4B4B4"/>
<rect x="226" y="280" width="3" height="1" fill="#B4B4B4"/>
<rect x="232" y="280" width="3" height="1" fill="#B4B4B4"/>
<rect x="238" y="280" width="3" height="1" fill="#B4B4B4"/>
<rect x="244" y="280" width="3" height="1" fill="#B4B4B4"/>
<rect x="250" y="280" width="3" height="1" fill="#B4B4B4"/>
<rect x="256" y="280" width="3" height="1" fill="#B4B4B4"/>
<rect x="262" y="280" width="3" height="1" fill="#B4B4B4"/>
<rect x="268" y="280" width="3" height="1" fill="#B4B4B4"/>
<rect x="274" y="280" width="3" height="1" fill="#B4B4B4"/>
<rect x="280" y="280" width="3" height="1" fill="#B4B4B4"/>
<rect x="286" y="280" width="3" height="1" fill="#B4B4B4"/>
<rect x="292" y="280" width="3" height="1" fill="#B4B4B4"/>
<rect x="298" y="280" width="3" height="1" fill="#B4B4B4"/>
<rect x="304" y="280" width="3" height="1" fill="#B4B4B4"/>
<rect x="310" y="280" width="3" height="1" fill="#B4B4B4"/>
<rect x="316" y="280" width="3" height="1" fill="#B4B4B4"/>
<rect x="322" y="280" width="3" height="1" fill="#B4B4B4"/>
<rect x="328" y="280" width="3" height="1" fill="#B4B4B4"/>
<rect x="334" y="280" width="3" height="1" fill="#B4B4B4"/>
<rect x="340" y="280" width="3" height="1" fill="#B4B4B4"/>
<rect x="346" y="280" width="3" height="1" fill="#B4B4B4"/>
<rect x="352" y="280" width="3" height="1" fill="#B4B4B4"/>
<rect x="358" y="280" width="3" height="1" fill="#B4B4B4"/>
<rect x="364" y="280" width="3" height="1" fill="#B4B4B4"/>
<rect x="370" y="280" width="3" height="1" fill="#B4B4B4"/>
<rect x="376" y="280" width="3" height="1" fill="#B4B4B4"/>
<rect x="382" y="280" width="3" height="1" fill="#B4B4B4"/>
<rect x="388" y="280" width="3" height="1" fill="#B4B4B4"/>
<rect x="394" y="280" width="3" height="1" fill="#B4B4B4"/>
<rect x="400" y="280" width="3" height="1" fill="#B4B4B4"/>
<rect x="406" y="280" width="3" height="1" fill="#B4B4B4"/>
<rect x="412" y="280" width="3" height="1" fill="#B4B4B4"/>
<rect x="418" y="280" width="3" height="1" fill="#B4B4B4"/>
<rect x="424" y="280" width="3" height="1" fill="#B4B4B4"/>
<rect x="430" y="280" width="3" height="1" fill="#B4B4B4"/>
<rect x="436" y="280" width="3" height="1" fill="#B4B4B4"/>
<rect x="442" y="280" width="3" height="1" fill="#B4B4B4"/>
<rect x="448" y="280" width="3" height="1" fill="#B4B4B4"/>
<rect x="454" y="280" width="3" height="1" fill="#B4B4B4"/>
<rect x="460" y="280" width="3" height="1" fill="#B4B4B4"/>
<rect x="466" y="280" width="3" height="1" fill="#B4B4B4"/>
<rect x="472" y="280" width="3" height="1" fill="#B4B4B4"/>
<rect x="478" y="280" width="3" height="1" fill="#B4B4B4"/>
<rect x="484" y="280" width="3" height="1" fill="#B4B4B4"/>
<rect x="490" y="280" width="3" height="1" fill="#B4B4B4"/>
<rect x="496" y="280" width="3" height="1" fill="#B4B4B4"/>
<rect x="502" y="280" width="3" height="1" fill="#B4B4B4"/>
<rect x="508" y="280" width="3" height="1" fill="#B4B4B4"/>
<rect x="514" y="280" width="3" height="1" fill="#B4B4B4"/>
<rect x="520" y="280" width="3" height="1" fill="#B4B4B4"/>
<rect x="526" y="280" width="3" height="1" fill="#B4B4B4"/>
<rect x="532" y="280" width="3" height="1" fill="#B4B4B4"/>
<rect x="538" y="280" width="3" height="1" fill="#B4B4B4"/>
<rect x="544" y="280" width="3" height="1" fill="#B4B4B4"/>
<rect x="550" y="280" width="3" height="1" fill="#B4B4B4"/>
<rect x="556" y="280" width="3" height="1" fill="#B4B4B4"/>
<rect x="562" y="280" width="3" height="1" fill="#B4B4B4"/>
<rect x="568" y="280" width="3" height="1" fill="#B4B4B4"/>
<rect x="574" y="280" width="3" height="1" fill="#B4B4B4"/>
<rect x="580" y="280" width="3" height="1" fill="#B4B4B4"/>
<rect x="586" y="280" width="3" height="1" fill="#B4B4B4"/>
<rect x="592" y="280" width="3" height="1" fill="#B4B4B4"/>
<rect x="598" y="280" width="3" height="1" fill="#B4B4B4"/>
<rect x="604" y="280" width="3" height="1" fill="#B4B4B4"/>
<rect x="610" y="280" width="3" height="1" fill="#B4B4B4"/>
<rect x="616" y="280" width="3" height="1" fill="#B4B4B4"/>
<rect x="622" y="280" width="3" height="1" fill="#B4B4B4"/>
<rect x="628" y="280" width="3" height="1" fill="#B4B4B4"/>
<rect x="634" y="280" width="3" height="1" fill="#B4B4B4"/>
<rect x="640" y="280" width="3" height="1" fill="#B4B4B4"/>
<rect x="646" y="280" width="3" height="1" fill="#B4B4B4"/>
<rect x="652" y="280" width="3" height="1" fill="#B4B4B4"/>
<rect x="658" y="280" width="3" height="1" fill="#B4B4B4"/>
<rect x="664" y="280" width="3" height="1" fill="#B4B4B4"/>
<rect x="670" y="280" width="3" height="1" fill="#B4B4B4"/>
<rect x="676" y="280" width="3" height="1" fill="#B4B4B4"/>
<rect x="682" y="280" width="3" height="1" fill="#B4B4B4"/>
<rect x="688" y="280" width="3" height="1" fill="#B4B4B4"/>
<rect x="694" y="280" width="3" height="1" fill="#B4B4B4"/>
<rect x="700" y="280" width="3" height="1" fill="#B4B4B4"/>
<rect x="706" y="280" width="3" height="1" fill="#B4B4B4"/>
<rect x="712" y="280" width="3" height="1" fill="#B4B4B4"/>
<rect x="718" y="280" width="3" height="1" fill="#B4B4B4"/>
<rect x="724" y="280" width="3" height="1" fill="#B4B4B4"/>
<rect x="730" y="280" width="3" height="1" fill="#B4B4B4"/>
<rect x="736" y="280" width="3" height="1" fill="#B4B4B4"/>
<rect x="742" y="280" width="3" height="1" fill="#B4B4B4"/>
<rect x="748" y="280" width="3" height="1" fill="#B4B4B4"/>
<rect x="754" y="280" width="3" height="1" fill="#B4B4B4"/>
<rect x="760" y="280" width="3" height="1" fill="#B4B4B4"/>
<rect x="766" y="280" width="3" height="1" fill="#B4B4B4"/>
<rect x="772" y="280" width="3" height="1" fill="#B4B4B4"/>
<rect x="778" y="280" width="3" height="1" fill="#B4B4B4"/>
<rect x="784" y="280" width="3" height="1" fill="#B4B4B4"/>
<rect x="790" y="280" width="3" height="1" fill="#B4B4B4"/>
<rect x="796" y="280" width="3" height="1" fill="#B4B4B4"/>
<rect x="802" y="280" width="3" height="1" fill="#B4B4B4"/>
<rect x="808" y="280" width="3" height="1" fill="#B4B4B4"/>
<rect x="814" y="280" width="3" height="1" fill="#B4B4B4"/>
<rect x="820" y="280" width="3" height="1" fill="#B4B4B4"/>
<rect x="826" y="280" width="3" height="1" fill="#B4B4B4"/>
<rect x="832" y="280" width="3" height="1" fill="#B4B4B4"/>
<rect x="838" y="280" width="3" height="1" fill="#B4B4B4"/>
<rect x="844" y="280" width="3" height="1" fill="#B4B4B4"/>
<rect x="850" y="280" width="3" height="1" fill="#B4B4B4"/>
<rect x="856" y="280" width="3" height="1" fill="#B4B4B4"/>
<rect x="862" y="280" width="3" height="1" fill="#B4B4B4"/>
<rect x="868" y="280" width="3" height="1" fill="#B4B4B4"/>
<rect x="874" y="280" width="3" height="1" fill="#B4B4B4"/>
<rect x="880" y="280" width="3" height="1" fill="#B4B4B4"/>
<rect x="886" y="280" width="3" height="1" fill="#B4B4B4"/>
<rect x="892" y="280" width="3" height="1" fill="#B4B4B4"/>
<rect x="898" y="280" width="3" height="1" fill="#B4B4B4"/>
<rect x="904" y="280" width="3" height="1" fill="#B4B4B4"/>
<rect x="910" y="280" width="3" height="1" fill="#B4B4B4"/>
<rect x="916" y="280" width="3" height="1" fill="#B4B4B4"/>
<rect x="922" y="280" width="3" height="1" fill="#B4B4B4"/>
<rect x="928" y="280" width="3" height="1" fill="#B4B4B4"/>
<rect x="934" y="280" width="3" height="1" fill="#B4B4B4"/>
<rect x="940" y="280" width="3" height="1" fill="#B4B4B4"/>
<rect x="946" y="280" width="3" height="1" fill="#B4B4B4"/>
<rect x="952" y="280" width="3" height="1" fill="#B4B4B4"/>
<rect x="958" y="280" width="3" height="1" fill="#B4B4B4"/>
<rect x="4" y="326" width="3" height="1" fill="#B4B4B4"/>
<rect x="10" y="326" width="3" height="1" fill="#B4B4B4"/>
<rect x="16" y="326" width="3" height="1" fill="#B4B4B4"/>
<rect x="22" y="326" width="3" height="1" fill="#B4B4B4"/>
<rect x="28" y="326" width="3" height="1" fill="#B4B4B4"/>
<rect x="34" y="326" width="3" height="1" fill="#B4B4B4"/>
<rect x="40" y="326" width="3" height="1" fill="#B4B4B4"/>
<rect x="46" y="326" width="3" height="1" fill="#B4B4B4"/>
<rect x="52" y="326" width="3" height="1" fill="#B4B4B4"/>
<rect x="58" y="326" width="3" height="1" fill="#B4B4B4"/>
<rect x="64" y="326" width="3" height="1" fill="#B4B4B4"/>
<rect x="70" y="326" width="3" height="1" fill="#B4B4B4"/>
<rect x="76" y="326" width="3" height="1" fill="#B4B4B4"/>
<rect x="82" y="326" width="3" height="1" fill="#B4B4B4"/>
<rect x="88" y="326" width="3" height="1" fill="#B4B4B4"/>
<rect x="94" y="326" width="3" height="1" fill="#B4B4B4"/>
<rect x="100" y="326" width="3" height="1" fill="#B4B4B4"/>
<rect x="106" y="326" width="3" height="1" fill="#B4B4B4"/>
<rect x="112" y="326" width="3" height="1" fill="#B4B4B4"/>
<rect x="118" y="326" width="3" height="1" fill="#B4B4B4"/>
<rect x="124" y="326" width="3" height="1" fill="#B4B4B4"/>
<rect x="130" y="326" width="3" height="1" fill="#B4B4B4"/>
<rect x="136" y="326" width="3" height="1" fill="#B4B4B4"/>
<rect x="142" y="326" width="3" height="1" fill="#B4B4B4"/>
<rect x="148" y="326" width="3" height="1" fill="#B4B4B4"/>
<rect x="154" y="326" width="3" height="1" fill="#B4B4B4"/>
<rect x="160" y="326" width="3" height="1" fill="#B4B4B4"/>
<rect x="166" y="326" width="3" height="1" fill="#B4B4B4"/>
<rect x="172" y="326" width="3" height="1" fill="#B4B4B4"/>
<rect x="178" y="326" width="3" height="1" fill="#B4B4B4"/>
<rect x="184" y="326" width="3" height="1" fill="#B4B4B4"/>
<rect x="190" y="326" width="3" height="1" fill="#B4B4B4"/>
<rect x="196" y="326" width="3" height="1" fill="#B4B4B4"/>
<rect x="202" y="326" width="3" height="1" fill="#B4B4B4"/>
<rect x="208" y="326" width="3" height="1" fill="#B4B4B4"/>
<rect x="214" y="326" width="3" height="1" fill="#B4B4B4"/>
<rect x="220" y="326" width="3" height="1" fill="#B4B4B4"/>
<rect x="226" y="326" width="3" height="1" fill="#B4B4B4"/>
<rect x="232" y="326" width="3" height="1" fill="#B4B4B4"/>
<rect x="238" y="326" width="3" height="1" fill="#B4B4B4"/>
<rect x="244" y="326" width="3" height="1" fill="#B4B4B4"/>
<rect x="250" y="326" width="3" height="1" fill="#B4B4B4"/>
<rect x="256" y="326" width="3" height="1" fill="#B4B4B4"/>
<rect x="262" y="326" width="3" height="1" fill="#B4B4B4"/>
<rect x="268" y="326" width="3" height="1" fill="#B4B4B4"/>
<rect x="274" y="326" width="3" height="1" fill="#B4B4B4"/>
<rect x="280" y="326" width="3" height="1" fill="#B4B4B4"/>
<rect x="286" y="326" width="3" height="1" fill="#B4B4B4"/>
<rect x="292" y="326" width="3" height="1" fill="#B4B4B4"/>
<rect x="298" y="326" width="3" height="1" fill="#B4B4B4"/>
<rect x="304" y="326" width="3" height="1" fill="#B4B4B4"/>
<rect x="310" y="326" width="3" height="1" fill="#B4B4B4"/>
<rect x="316" y="326" width="3" height="1" fill="#B4B4B4"/>
<rect x="322" y="326" width="3" height="1" fill="#B4B4B4"/>
<rect x="328" y="326" width="3" height="1" fill="#B4B4B4"/>
<rect x="334" y="326" width="3" height="1" fill="#B4B4B4"/>
<rect x="340" y="326" width="3" height="1" fill="#B4B4B4"/>
<rect x="346" y="326" width="3" height="1" fill="#B4B4B4"/>
<rect x="352" y="326" width="3" height="1" fill="#B4B4B4"/>
<rect x="358" y="326" width="3" height="1" fill="#B4B4B4"/>
<rect x="364" y="326" width="3" height="1" fill="#B4B4B4"/>
<rect x="370" y="326" width="3" height="1" fill="#B4B4B4"/>
<rect x="376" y="326" width="3" height="1" fill="#B4B4B4"/>
<rect x="382" y="326" width="3" height="1" fill="#B4B4B4"/>
<rect x="388" y="326" width="3" height="1" fill="#B4B4B4"/>
<rect x="394" y="326" width="3" height="1" fill="#B4B4B4"/>
<rect x="400" y="326" width="3" height="1" fill="#B4B4B4"/>
<rect x="406" y="326" width="3" height="1" fill="#B4B4B4"/>
<rect x="412" y="326" width="3" height="1" fill="#B4B4B4"/>
<rect x="418" y="326" width="3" height="1" fill="#B4B4B4"/>
<rect x="424" y="326" width="3" height="1" fill="#B4B4B4"/>
<rect x="430" y="326" width="3" height="1" fill="#B4B4B4"/>
<rect x="436" y="326" width="3" height="1" fill="#B4B4B4"/>
<rect x="442" y="326" width="3" height="1" fill="#B4B4B4"/>
<rect x="448" y="326" width="3" height="1" fill="#B4B4B4"/>
<rect x="454" y="326" width="3" height="1" fill="#B4B4B4"/>
<rect x="460" y="326" width="3" height="1" fill="#B4B4B4"/>
<rect x="466" y="326" width="3" height="1" fill="#B4B4B4"/>
<rect x="472" y="326" width="3" height="1" fill="#B4B4B4"/>
<rect x="478" y="326" width="3" height="1" fill="#B4B4B4"/>
<rect x="484" y="326" width="3" height="1" fill="#B4B4B4"/>
<rect x="490" y="326" width="3" height="1" fill="#B4B4B4"/>
<rect x="496" y="326" width="3" height="1" fill="#B4B4B4"/>
<rect x="502" y="326" width="3" height="1" fill="#B4B4B4"/>
<rect x="508" y="326" width="3" height="1" fill="#B4B4B4"/>
<rect x="514" y="326" width="3" height="1" fill="#B4B4B4"/>
<rect x="520" y="326" width="3" height="1" fill="#B4B4B4"/>
<rect x="526" y="326" width="3" height="1" fill="#B4B4B4"/>
<rect x="532" y="326" width="3" height="1" fill="#B4B4B4"/>
<rect x="538" y="326" width="3" height="1" fill="#B4B4B4"/>
<rect x="544" y="326" width="3" height="1" fill="#B4B4B4"/>
<rect x="550" y="326" width="3" height="1" fill="#B4B4B4"/>
<rect x="556" y="326" width="3" height="1" fill="#B4B4B4"/>
<rect x="562" y="326" width="3" height="1" fill="#B4B4B4"/>
<rect x="568" y="326" width="3" height="1" fill="#B4B4B4"/>
<rect x="574" y="326" width="3" height="1" fill="#B4B4B4"/>
<rect x="580" y="326" width="3" height="1" fill="#B4B4B4"/>
<rect x="586" y="326" width="3" height="1" fill="#B4B4B4"/>
<rect x="592" y="326" width="3" height="1" fill="#B4B4B4"/>
<rect x="598" y="326" width="3" height="1" fill="#B4B4B4"/>
<rect x="604" y="326" width="3" height="1" fill="#B4B4B4"/>
<rect x="610" y="326" width="3" height="1" fill="#B4B4B4"/>
<rect x="616" y="326" width="3" height="1" fill="#B4B4B4"/>
<rect x="622" y="326" width="3" height="1" fill="#B4B4B4"/>
<rect x="628" y="326" width="3" height="1" fill="#B4B4B4"/>
<rect x="634" y="326" width="3" height="1" fill="#B4B4B4"/>
<rect x="640" y="326" width="3" height="1" fill="#B4B4B4"/>
<rect x="646" y="326" width="3" height="1" fill="#B4B4B4"/>
<rect x="652" y="326" width="3" height="1" fill="#B4B4B4"/>
<rect x="658" y="326" width="3" height="1" fill="#B4B4B4"/>
<rect x="664" y="326" width="3" height="1" fill="#B4B4B4"/>
<rect x="670" y="326" width="3" height="1" fill="#B4B4B4"/>
<rect x="676" y="326" width="3" height="1" fill="#B4B4B4"/>
<rect x="682" y="326" width="3" height="1" fill="#B4B4B4"/>
<rect x="688" y="326" width="3" height="1" fill="#B4B4B4"/>
<rect x="694" y="326" width="3" height="1" fill="#B4B4B4"/>
<rect x="700" y="326" width="3" height="1" fill="#B4B4B4"/>
<rect x="706" y="326" width="3" height="1" fill="#B4B4B4"/>
<rect x="712" y="326" width="3" height="1" fill="#B4B4B4"/>
<rect x="718" y="326" width="3" height="1" fill="#B4B4B4"/>
<rect x="724" y="326" width="3" height="1" fill="#B4B4B4"/>
<rect x="730" y="326" width="3" height="1" fill="#B4B4B4"/>
<rect x="736" y="326" width="3" height="1" fill="#B4B4B4"/>
<rect x="742" y="326" width="3" height="1" fill="#B4B4B4"/>
<rect x="748" y="326" width="3" height="1" fill="#B4B4B4"/>
<rect x="754" y="326" width="3" height="1" fill="#B4B4B4"/>
<rect x="760" y="326" width="3" height="1" fill="#B4B4B4"/>
<rect x="766" y="326" width="3" height="1" fill="#B4B4B4"/>
<rect x="772" y="326" width="3" height="1" fill="#B4B4B4"/>
<rect x="778" y="326" width="3" height="1" fill="#B4B4B4"/>
<rect x="784" y="326" width="3" height="1" fill="#B4B4B4"/>
<rect x="790" y="326" width="3" height="1" fill="#B4B4B4"/>
<rect x="796" y="326" width="3" height="1" fill="#B4B4B4"/>
<rect x="802" y="326" width="3" height="1" fill="#B4B4B4"/>
<rect x="808" y="326" width="3" height="1" fill="#B4B4B4"/>
<rect x="814" y="326" width="3" height="1" fill="#B4B4B4"/>
<rect x="820" y="326" width="3" height="1" fill="#B4B4B4"/>
<rect x="826" y="326" width="3" height="1" fill="#B4B4B4"/>
<rect x="832" y="326" width="3" height="1" fill="#B4B4B4"/>
<rect x="838" y="326" width="3" height="1" fill="#B4B4B4"/>
<rect x="844" y="326" width="3" height="1" fill="#B4B4B4"/>
<rect x="850" y="326" width="3" height="1" fill="#B4B4B4"/>
<rect x="856" y="326" width="3" height="1" fill="#B4B4B4"/>
<rect x="862" y="326" width="3" height="1" fill="#B4B4B4"/>
<rect x="868" y="326" width="3" height="1" fill="#B4B4B4"/>
<rect x="874" y="326" width="3" height="1" fill="#B4B4B4"/>
<rect x="880" y="326" width="3" height="1" fill="#B4B4B4"/>
<rect x="886" y="326" width="3" height="1" fill="#B4B4B4"/>
<rect x="892" y="326" width="3" height="1" fill="#B4B4B4"/>
<rect x="898" y="326" width="3" height="1" fill="#B4B4B4"/>
<rect x="904" y="326" width="3" height="1" fill="#B4B4B4"/>
<rect x="910" y="326" width="3" height="1" fill="#B4B4B4"/>
<rect x="916" y="326" width="3" height="1" fill="#B4B4B4"/>
<rect x="922" y="326" width="3" height="1" fill="#B4B4B4"/>
<rect x="928" y="326" width="3" height="1" fill="#B4B4B4"/>
<rect x="934" y="326" width="3" height="1" fill="#B4B4B4"/>
<rect x="940" y="326" width="3" height="1" fill="#B4B4B4"/>
<rect x="946" y="326" width="3" height="1" fill="#B4B4B4"/>
<rect x="952" y="326" width="3" height="1" fill="#B4B4B4"/>
<rect x="958" y="326" width="3" height="1" fill="#B4B4B4"/>
<polyline points="3.50,298.00 11.50,291.00 19.50,294.70 27.50,287.00 35.50,291.50 43.50,293.50 51.50,294.50 59.50,295.50 67.50,296.00 75.50,296.50 83.50,296.20 91.50,297.00 99.50,296.00 107.50,295.50 115.50,293.50 123.50,288.50 131.50,287.00 139.50,287.00 147.50,293.50 155.50,287.00 163.50,289.75 171.50,291.00 179.50,288.00 187.50,302.50 195.50,308.00 203.50,312.50 211.50,306.50 219.50,308.75 227.50,303.50 235.50,306.75 243.50,307.50 251.50,309.75 259.50,308.50 267.50,309.75 275.50,306.75 283.50,307.50 291.50,307.50 299.50,306.00 307.50,303.00 315.50,309.25 323.50,318.50 331.50,321.00 339.50,324.50 347.50,321.00 355.50,321.00 363.50,303.50 371.50,308.75 379.50,308.75 387.50,313.50 395.50,308.75 403.50,310.00 411.50,313.50 419.50,310.00 427.50,311.00 435.50,311.00 443.50,312.00 451.50,310.00 459.50,311.00 467.50,313.00 475.50,313.50 483.50,315.00 491.50,318.00 499.50,316.00 507.50,327.00 515.50,329.75 523.50,321.75 531.50,313.00 539.50,308.75 547.50,311.00 555.50,298.00 563.50,294.25 571.50,289.25 579.50,294.75 587.50,288.00 595.50,291.00 603.50,291.00 611.50,291.50 619.50,293.50 627.50,293.75 635.50,296.75 643.50,296.75 651.50,296.75 659.50,291.75 667.50,285.50 675.50,281.00 683.50,279.75 691.50,282.00 699.50,276.00 707.50,281.00 715.50,290.00 723.50,296.75 731.50,292.00 739.50,294.75 747.50,280.50 755.50,272.50 763.50,271.00 771.50,274.00 779.50,282.50 787.50,279.75 795.50,278.00 803.50,280.00 811.50,280.50 819.50,281.50 827.50,281.50 835.50,284.00 843.50,287.50 851.50,288.75 859.50,286.75 867.50,285.00 875.50,285.00 883.50,280.50 891.50,289.50 899.50,283.50 907.50,288.00" fill="none" stroke="#1E90FF" stroke-width="1" shape-rendering="crispEdges"/>
<rect x="899" y="244" width="1" height="118" fill="#FF0000"/>
</g>
<rect x="2" y="243" width="959" height="1" fill="#000080"/>
<rect x="2" y="362" width="959" height="1" fill="#000080"/>
<rect x="2" y="243" width="1" height="120" fill="#000080"/>
<rect x="960" y="243" width="1" height="120" fill="#000080"/>
<g clip-path="url(#cadx)">
<polyline points="3.50,446.00 15.50,452.50 28.00,456.75 36.75,460.00 44.25,461.00 53.00,455.50 60.50,451.75 69.25,450.50 76.75,448.50 84.25,445.00 91.75,444.25 100.50,448.50 108.00,451.75 118.00,458.00 128.00,461.00 136.75,464.25 145.50,466.75 155.50,468.50 163.00,466.75 170.50,460.00 180.50,454.25 190.50,445.00 200.50,441.00 210.50,445.00 220.50,453.00 230.50,455.50 240.50,453.50 250.50,445.50 265.50,440.50 278.00,445.50 290.50,450.50 303.00,455.50 313.00,459.25 323.00,443.00 333.00,431.75 340.50,429.25 350.50,433.00 360.50,439.25 370.50,446.75 379.25,438.00 390.50,443.00 403.00,450.50 415.50,444.25 428.00,451.75 440.50,458.50 450.50,461.75 460.50,453.00 475.50,446.75 480.50,439.25 491.75,425.00 500.50,431.00 508.00,424.25 515.50,426.75 521.75,424.25 533.00,431.00 543.00,438.00 555.50,446.75 568.00,453.00 580.50,459.25 590.50,464.25 603.00,467.50 613.00,461.75 623.00,453.50 635.50,445.50 645.50,450.50 655.50,453.50 665.50,459.25 680.50,464.25 695.50,468.00 705.50,471.75 715.50,472.50 724.25,455.50 730.50,458.50 745.50,464.25 760.50,469.25 770.50,470.50 780.50,466.00 795.50,468.00 808.00,471.75 818.00,468.00 826.75,461.75 835.50,463.00 843.00,450.50 855.50,451.00 865.50,458.00 880.50,464.25 893.00,466.75 905.50,470.00" fill="none" stroke="#F5DEB3" stroke-width="1" stroke-dasharray="3 3" shape-rendering="crispEdges"/>
<polyline points="3.50,440.50 10.50,446.00 18.00,449.25 26.75,440.50 35.50,444.25 43.00,448.00 50.50,452.50 58.00,455.50 66.75,460.00 75.50,463.00 83.00,466.00 90.50,468.00 99.25,470.50 108.00,472.50 115.50,463.00 124.25,448.00 131.75,442.50 140.50,445.00 148.00,445.00 155.50,448.50 163.00,445.00 173.00,449.25 180.50,450.50 188.00,454.25 195.50,458.00 203.00,461.00 213.00,463.50 220.50,460.00 228.00,453.00 235.50,455.00 244.25,459.25 253.00,463.00 268.00,467.50 280.50,465.50 291.75,468.50 300.50,461.75 305.50,451.75 314.25,443.50 324.25,449.25 335.50,455.50 348.00,459.25 358.00,451.75 364.25,440.50 375.50,444.25 390.50,451.75 403.00,459.25 420.50,465.50 440.50,471.75 465.50,475.50 480.50,476.75 491.75,477.50 503.00,473.00 513.00,475.50 524.25,475.50 533.00,463.50 543.00,456.00 553.00,446.00 564.25,449.25 573.00,445.00 580.50,446.00 589.25,450.00 596.00,445.00 605.50,450.50 615.50,455.50 625.50,460.50 635.50,464.25 644.25,466.00 651.75,468.50 660.50,459.25 668.00,445.50 675.50,431.00 684.25,436.75 693.00,431.00 700.50,426.75 708.00,431.00 718.00,439.25 724.25,443.50 730.50,443.00 739.25,446.75 748.00,433.00 756.75,421.00 764.25,416.75 773.00,424.25 788.00,440.00 795.50,426.75 805.50,434.25 815.50,441.75 828.00,450.50 835.50,447.50 845.50,453.00 853.00,456.75 859.25,457.50 868.00,446.00 875.50,450.00 884.25,440.00 893.00,445.00 900.50,444.25 907.50,448.00" fill="none" stroke="#9ACD32" stroke-width="1" stroke-dasharray="3 3" shape-rendering="crispEdges"/>
<polyline points="3.50,458.00 10.50,460.00 19.25,461.00 26.75,457.50 35.50,453.75 43.00,453.00 50.50,455.00 58.00,456.75 66.75,458.00 75.50,453.50 83.00,451.00 90.50,445.50 99.25,438.50 108.00,433.00 115.50,438.75 124.25,438.75 131.75,435.50 139.25,433.00 148.00,428.00 156.75,424.25 164.25,420.00 173.00,424.75 180.50,428.50 188.00,434.25 195.50,434.25 203.00,432.50 211.75,431.75 219.25,433.50 228.00,438.00 236.75,443.00 245.50,446.75 258.00,441.00 268.00,434.25 278.00,431.75 291.75,426.75 300.50,430.00 308.00,433.00 315.50,431.75 325.50,438.00 335.50,436.75 348.00,431.75 355.50,433.00 365.50,440.00 375.50,443.50 385.50,445.50 395.50,446.75 404.25,446.75 415.50,440.50 425.50,436.75 435.50,433.00 451.75,428.50 465.50,416.75 478.00,403.00 490.50,390.50 493.00,388.00 505.50,381.75 515.50,376.00 524.25,370.00 533.00,374.25 540.50,380.50 548.00,390.50 555.50,400.50 563.00,410.50 573.00,416.75 580.50,418.50 588.00,421.75 595.50,420.50 603.00,418.50 615.50,425.50 628.00,433.50 640.50,431.75 651.75,430.00 660.50,434.75 668.00,434.25 675.50,430.50 685.50,426.00 695.50,418.00 705.50,410.00 715.50,402.50 724.25,408.50 731.75,411.00 740.50,414.25 748.00,411.75 758.00,405.00 765.50,400.00 771.75,396.75 788.00,396.75 795.50,393.50 804.25,390.50 811.75,388.00 819.25,391.00 828.00,398.00 835.50,402.50 843.00,410.00 851.75,416.75 860.50,425.50 868.00,428.50 875.50,431.00 883.00,428.00 893.00,423.50 900.50,420.00 907.50,417.50" fill="none" stroke="#FF0000" stroke-width="1" shape-rendering="crispEdges"/>
<rect x="899" y="365" width="1" height="117" fill="#FF0000"/>
</g>
<rect x="2" y="364" width="959" height="1" fill="#000080"/>
<rect x="2" y="482" width="959" height="1" fill="#000080"/>
<rect x="2" y="364" width="1" height="119" fill="#000080"/>
<rect x="960" y="364" width="1" height="119" fill="#000080"/>
<rect x="961" y="68" width="2" height="1" fill="#000080"/>
<rect x="961" y="102" width="2" height="1" fill="#000080"/>
<rect x="961" y="136" width="2" height="1" fill="#000080"/>
<rect x="961" y="169" width="2" height="1" fill="#000080"/>
<rect x="961" y="203" width="2" height="1" fill="#000080"/>
<rect x="961" y="237" width="2" height="1" fill="#000080"/>
<rect x="961" y="245" width="1" height="1" fill="#000080"/>
<rect x="961" y="361" width="1" height="1" fill="#000080"/>
<rect x="961" y="366" width="1" height="1" fill="#000080"/>
<rect x="961" y="481" width="1" height="1" fill="#000080"/>
<rect x="960" y="35" width="1" height="1" fill="#D3D3D3"/>
<rect x="961" y="34" width="1" height="1" fill="#000080"/>
<rect x="3" y="483" width="1" height="3" fill="#000080"/>
<rect x="67" y="483" width="1" height="3" fill="#000080"/>
<rect x="131" y="483" width="1" height="3" fill="#000080"/>
<rect x="195" y="483" width="1" height="3" fill="#000080"/>
<rect x="259" y="483" width="1" height="3" fill="#000080"/>
<rect x="323" y="483" width="1" height="3" fill="#000080"/>
<rect x="387" y="483" width="1" height="3" fill="#000080"/>
<rect x="451" y="483" width="1" height="3" fill="#000080"/>
<rect x="515" y="483" width="1" height="3" fill="#000080"/>
<rect x="579" y="483" width="1" height="3" fill="#000080"/>
<rect x="643" y="483" width="1" height="3" fill="#000080"/>
<rect x="707" y="483" width="1" height="3" fill="#000080"/>
<rect x="771" y="483" width="1" height="3" fill="#000080"/>
<rect x="835" y="483" width="1" height="3" fill="#000080"/>
<rect x="899" y="483" width="1" height="3" fill="#000080"/>
</svg>
<div class="t" style="left:966px;top:61.7px;color:#000080;font-size:9.4px;">1.1305</div>
<div class="t" style="left:966px;top:95.7px;color:#000080;font-size:9.4px;">1.1255</div>
<div class="t" style="left:966px;top:129.7px;color:#000080;font-size:9.4px;">1.1205</div>
<div class="t" style="left:966px;top:162.7px;color:#000080;font-size:9.4px;">1.1155</div>
<div class="t" style="left:966px;top:196.7px;color:#000080;font-size:9.4px;">1.1105</div>
<div class="t" style="left:966px;top:230.7px;color:#000080;font-size:9.4px;">1.1055</div>
<div class="bx" style="top:5px;background:#0000FF"><span>1.1390</span></div>
<div class="bx" style="top:29px;background:#000080"><span>1.1354</span></div>
<div class="bx" style="top:43px;background:#FF0000"><span>1.1333</span></div>
<div class="bx" style="top:82px;background:#0000FF"><span>1.1276</span></div>
<div class="bx" style="top:119px;background:#FF0000"><span>1.1221</span></div>
<div class="t" style="left:964px;top:245px;color:#000080;font-size:9.4px;">100</div>
<div class="t" style="left:964px;top:274px;color:#000080;font-size:9.4px;">70</div>
<div class="t" style="left:964px;top:320px;color:#000080;font-size:9.4px;">30</div>
<div class="t" style="left:964px;top:349.5px;color:#000080;font-size:9.4px;">0</div>
<div class="t" style="left:964px;top:366px;color:#000080;font-size:9.4px;">65</div>
<div class="t" style="left:964px;top:469.5px;color:#000080;font-size:9.4px;">0</div>
<div class="t" style="left:18px;top:4.5px;background:#FAFAD2;padding:0 1.5px 0 0">EURUSD,H1</div>
<div class="t" style="left:7px;top:246px;color:#000080;font-size:9.4px;">RSI(14) 62.9151</div>
<div class="t" style="left:7px;top:367px;color:#000080;font-size:9.4px;">ADX(14) 36.2269 +DI:18.7220 -DI:6.4878</div>
<div class="t" style="left:7.5px;top:468.5px;color:#000080;font-size:9.4px;">FreshForex Terminal, &copy; 2001-2014, MetaQuotes Software Corp.</div>
<div class="t" style="left:3px;top:486px;color:#000080;font-size:9.4px;">30 Apr 2015</div>
<div class="t" style="left:67px;top:486px;color:#000080;font-size:9.4px;">1 May 02:00</div>
<div class="t" style="left:131px;top:486px;color:#000080;font-size:9.4px;">1 May 10:00</div>
<div class="t" style="left:195px;top:486px;color:#000080;font-size:9.4px;">1 May 18:00</div>
<div class="t" style="left:259px;top:486px;color:#000080;font-size:9.4px;">4 May 02:00</div>
<div class="t" style="left:323px;top:486px;color:#000080;font-size:9.4px;">4 May 10:00</div>
<div class="t" style="left:387px;top:486px;color:#000080;font-size:9.4px;">4 May 18:00</div>
<div class="t" style="left:451px;top:486px;color:#000080;font-size:9.4px;">5 May 02:00</div>
<div class="t" style="left:515px;top:486px;color:#000080;font-size:9.4px;">5 May 10:00</div>
<div class="t" style="left:579px;top:486px;color:#000080;font-size:9.4px;">5 May 18:00</div>
<div class="t" style="left:643px;top:486px;color:#000080;font-size:9.4px;">6 May 02:00</div>
<div class="t" style="left:707px;top:486px;color:#000080;font-size:9.4px;">6 May 10:00</div>
<div class="t" style="left:771px;top:486px;color:#000080;font-size:9.4px;">6 May 18:00</div>
<div class="t" style="left:835px;top:486px;color:#000080;font-size:9.4px;">7 May 02:00</div>
<div class="t" style="left:899px;top:486px;color:#000080;font-size:9.4px;">7 May 10:00</div>
<div class="tb"><span>2015.05.07 10:00</span></div>
</body></html>
